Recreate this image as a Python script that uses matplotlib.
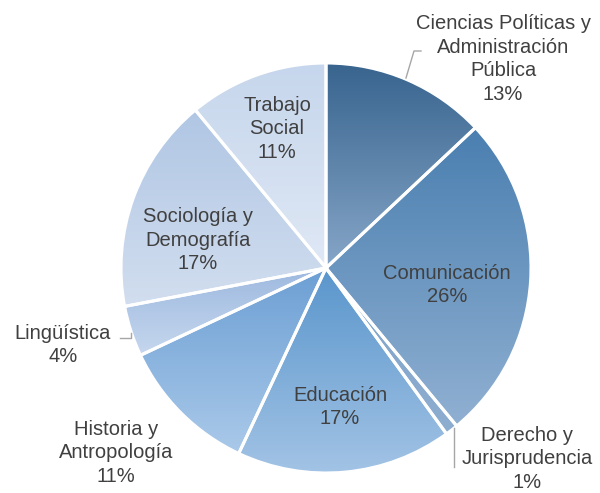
import matplotlib.pyplot as plt
import numpy as np
from matplotlib.colors import to_rgb

plt.rcParams['font.family'] = ['Liberation Sans', 'DejaVu Sans']

# data
areas = ['Ciencias Políticas y\nAdministración\nPública', 'Comunicación',
         'Derecho y\nJurisprudencia', 'Educación', 'Historia y\nAntropología',
         'Lingüística', 'Sociología y\nDemografía', 'Trabajo\nSocial']
shares = [13, 26, 1, 17, 11, 4, 17, 11]

# gradient colours per slice (top, bottom)
tops = ['#38648e', '#4a7fb0', '#7fa3cb', '#5a96cc', '#6c9fd4', '#9db9df', '#b0c6e4', '#c6d6ec']
bottoms = ['#86a6c8', '#90b0d2', '#8eaed0', '#a2c3e5', '#aac9e9', '#c6d7ee', '#d2deef', '#dfe8f5']

# label centres in pixel coords (x, y from top)
label_pos = [(503, 59), (447, 285), (527, 459), (340, 407), (116, 453),
             (63, 345), (198, 240), (277, 129)]

W, H = 600, 493
fig = plt.figure(figsize=(6, 4.93), dpi=100)
ax = fig.add_axes([0, 0, 1, 1])

cx, cy, R = 326, H - 268, 205
wedges, _ = ax.pie(shares, startangle=90, counterclock=False,
                   center=(cx, cy), radius=R, frame=True,
                   wedgeprops=dict(edgecolor='white', linewidth=2.2, facecolor='none'))

for w, top, bot in zip(wedges, tops, bottoms):
    x0, y0, x1, y1 = w.get_path().get_extents().extents
    t = np.linspace(0, 1, 200)[:, None]
    grad = (1 - t) * np.array(to_rgb(bot)) + t * np.array(to_rgb(top))
    im = ax.imshow(grad[:, None, :], extent=[x0, x1, y0, y1], origin='lower',
                   aspect='auto', interpolation='bilinear', zorder=1)
    im.set_clip_path(w)
    w.set_zorder(2)

for name, pct, (lx, ly) in zip(areas, shares, label_pos):
    ax.text(lx, H - ly, f'{name}\n{pct}%', ha='center', va='center',
            fontsize=14.5, color='#404040', linespacing=1.3, zorder=3)

# leader lines
lc = '#a6a6a6'
ax.plot([421, 414, 406], [H - 51, H - 51, H - 78], color=lc, lw=1, zorder=3)
ax.plot([120, 131, 131], [H - 338, H - 338, H - 333], color=lc, lw=1, zorder=3)
ax.plot([454, 454], [H - 428, H - 467], color=lc, lw=1, zorder=3)

ax.set_xlim(0, W)
ax.set_ylim(0, H)
ax.set_aspect('equal')
ax.axis('off')

fig.savefig('out.png', dpi=100, facecolor='white')
